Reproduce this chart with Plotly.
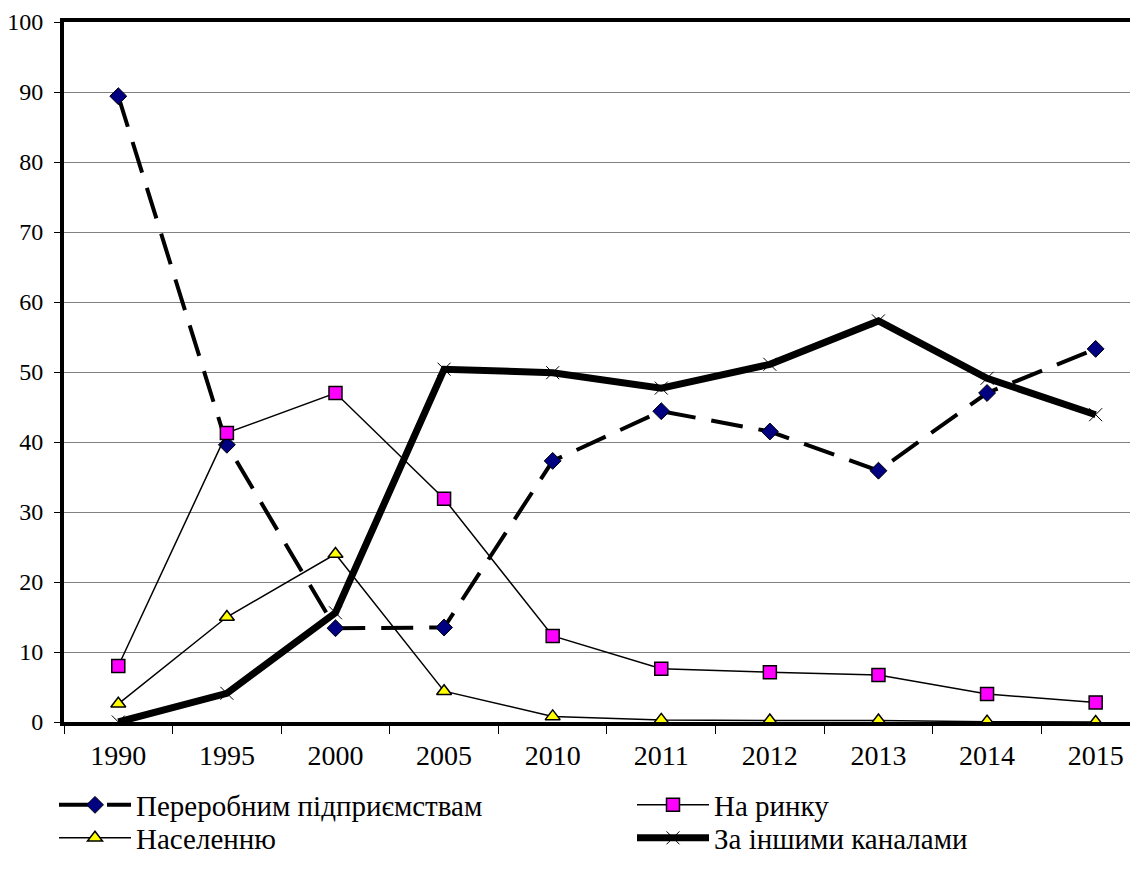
import plotly.graph_objects as go

years = ["1990", "1995", "2000", "2005", "2010", "2011", "2012", "2013", "2014", "2015"]
pererobnym = [89.4, 39.6, 13.4, 13.5, 37.3, 44.4, 41.5, 35.9, 47.0, 53.3]
na_rynku = [8.0, 41.3, 47.0, 31.9, 12.3, 7.6, 7.1, 6.7, 4.0, 2.8]
naselennyu = [2.6, 15.0, 24.0, 4.4, 0.8, 0.3, 0.2, 0.2, 0.05, 0.0]
inshi = [0.0, 4.1, 15.6, 50.4, 49.9, 47.7, 51.1, 57.3, 49.1, 43.9]

names = ["Переробним підприємствам", "На ринку", "Населенню", "За іншими каналами"]

FONT = "Liberation Serif"
W, H = 1130, 868  # page has an 8px body margin

fig = go.Figure()
fig.add_trace(go.Scatter(
    x=years, y=pererobnym, name=names[0], mode="lines+markers", legend="legend",
    line=dict(color="black", width=4, dash="32px,16px"),
    marker=dict(symbol="diamond", size=13, color="#000080", line=dict(color="black", width=1)),
))
fig.add_trace(go.Scatter(
    x=years, y=na_rynku, name=names[1], mode="lines+markers", legend="legend2",
    line=dict(color="black", width=1.5),
    marker=dict(symbol="square", size=13, color="#FF00FF", line=dict(color="black", width=1.5)),
))
fig.add_trace(go.Scatter(
    x=years, y=naselennyu, name=names[2], mode="lines+markers", legend="legend3",
    line=dict(color="black", width=1.5),
    marker=dict(symbol="triangle-up", size=13, color="#FFFF00", line=dict(color="black", width=1.5)),
))
fig.add_trace(go.Scatter(
    x=years, y=inshi, name=names[3], mode="lines+markers", legend="legend4",
    line=dict(color="black", width=7),
    marker=dict(symbol="x-thin", size=13, color="black", line=dict(color="black", width=1)),
))

legend_common = dict(
    orientation="v", xref="container", yref="container",
    xanchor="left", yanchor="middle",
    font=dict(family=FONT, size=29, color="black"),
    bgcolor="rgba(0,0,0,0)", tracegroupgap=0, itemwidth=72,
)
row1 = 1 - (805 - 8) / H
row2 = 1 - (838 - 8) / H
col1 = 46 / W
col2 = 624 / W

fig.update_layout(
    width=W, height=H,
    margin=dict(l=56, r=0, t=14, b=154, autoexpand=False),
    paper_bgcolor="white", plot_bgcolor="white",
    font=dict(family=FONT, size=21, color="black"),
    showlegend=True,
    legend=dict(legend_common, x=col1, y=row1),
    legend2=dict(legend_common, x=col2, y=row1),
    legend3=dict(legend_common, x=col1, y=row2),
    legend4=dict(legend_common, x=col2, y=row2),
)

fig.update_xaxes(
    type="category", range=[-0.5, 9.39], automargin=False,
    showline=True, linecolor="black", linewidth=4, mirror=True,
    ticks="outside", tickson="boundaries", ticklen=8, tickwidth=1, tickcolor="black",
    ticklabelstandoff=5,
    showgrid=False, zeroline=False, layer="below traces",
    tickfont=dict(family=FONT, size=28, color="black"),
)
fig.update_yaxes(
    range=[0, 100], dtick=10, tick0=0, automargin=False,
    showline=True, linecolor="black", linewidth=4,
    ticks="outside", ticklen=6, tickwidth=1, tickcolor="black",
    ticklabelstandoff=6,
    showgrid=True, gridcolor="#808080", gridwidth=1,
    zeroline=False, layer="below traces",
    tickfont=dict(family=FONT, size=24, color="black"),
)

fig.write_html("out.html")
